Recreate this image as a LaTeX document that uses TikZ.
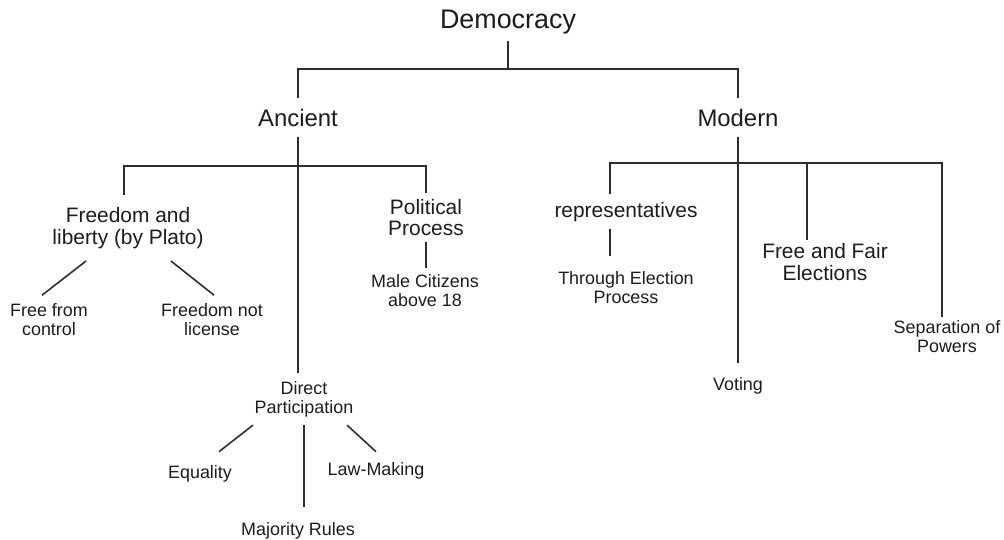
\documentclass[tikz,border=0pt]{standalone}
\usepackage{fontspec}
\setmainfont{Liberation Sans}
\usetikzlibrary{calc}
\definecolor{ink}{RGB}{28,28,28}
\definecolor{wire}{RGB}{45,45,45}
\tikzset{
  root/.style={font=\fontsize{15.3}{17}\selectfont, text=ink, inner xsep=2pt},
  branch/.style={font=\fontsize{13.6}{15}\selectfont, text=ink, inner xsep=2pt},
  topic/.style={font=\fontsize{11.9}{12.5}\selectfont, text=ink, align=center, inner xsep=2pt},
  leaf/.style={font=\fontsize{10.2}{10.8}\selectfont, text=ink, align=center, inner xsep=2pt},
  link/.style={draw=wire, line width=0.9pt},
}

\begin{document}
\begin{tikzpicture}[x=0.02cm,y=-0.02cm]
    \useasboundingbox (0,0) rectangle (1004,539);
    % top levels
    \node[root, anchor=base, inner ysep=4pt] (dem) at (508,28) {Democracy};
    \node[branch, anchor=base, inner ysep=5.7pt] (anc) at (298,126) {Ancient};
    \node[branch, anchor=base, inner ysep=5.7pt] (mod) at (738,126) {Modern};
    % ancient side
    \node[topic, inner ysep=6.8pt] (fl) at (128,228) {Freedom and\\liberty (by Plato)};
    \node[topic, inner ysep=3.1pt] (pol) at (426,217.5) {Political\\Process};
    \node[leaf, inner ysep=4pt] (male) at (425,291) {Male Citizens\\above 18};
    \node[leaf, inner ysep=4.5pt] (ffc) at (49,319.5) {Free from\\control};
    \node[leaf, inner ysep=4.5pt] (fnl) at (212,319.5) {Freedom not\\license};
    \node[leaf, inner ysep=4.5pt] (dp) at (304,399) {Direct\\Participation};
    \node[leaf, anchor=base, inner ysep=7.4pt] (eq) at (200,478) {Equality};
    \node[leaf, anchor=base, inner ysep=5.7pt] (law) at (376,475) {Law-Making};
    \node[leaf, anchor=base, inner ysep=8.5pt] (maj) at (298,535) {Majority Rules};
    % modern side
    \node[topic, anchor=base, inner ysep=4.3pt] (rep) at (626,217) {representatives};
    \node[leaf, inner ysep=9.1pt] (tep) at (626,288) {Through Election\\Process};
    \node[topic, inner ysep=1.7pt] (ffe) at (825,262) {Free and Fair\\Elections};
    \node[leaf, inner ysep=2.3pt] (sep) at (947,337) {Separation of\\Powers};
    \node[leaf, anchor=base, inner ysep=7.9pt] (vot) at (738,390) {Voting};

    \coordinate (jtop) at (dem.south |- 0,69);
    \draw[link] (dem.south) -- (jtop);
    \draw[link] (anc.north) |- (jtop) -| (mod.north);

    \coordinate (janc) at (anc.south |- 0,166);
    \draw[link] (anc.south) -- (anc.south |- dp.north);
    \draw[link] ($(fl.north)+(-4,0)$) |- (janc) -| (pol.north);
    \draw[link] (pol.south) -- (pol.south |- male.north);
    \draw[link] ($(fl.south)+(-42,0)$) -- ($(ffc.north)+(-7,0)$);
    \draw[link] ($(fl.south)+(43,0)$) -- ($(fnl.north)+(2,0)$);
    \draw[link] ($(dp.south)+(-51,0)$) -- ($(eq.north)+(19,0)$);
    \draw[link] (dp.south) -- (dp.south |- maj.north);
    \draw[link] ($(dp.south)+(43,0)$) -- (law.north);

    \coordinate (jmod) at (mod.south |- 0,163);
    \draw[link] (mod.south) -- (vot.north);
    \draw[link] ($(rep.north)+(-16,0)$) |- (jmod) -| ($(sep.north)+(-5,0)$);
    \draw[link] ($(ffe.north)+(-18,0)$) |- (jmod);
    \draw[link] ($(rep.south)+(-16,0)$) -- ($(tep.north)+(-16,0)$);
\end{tikzpicture}
\end{document}
